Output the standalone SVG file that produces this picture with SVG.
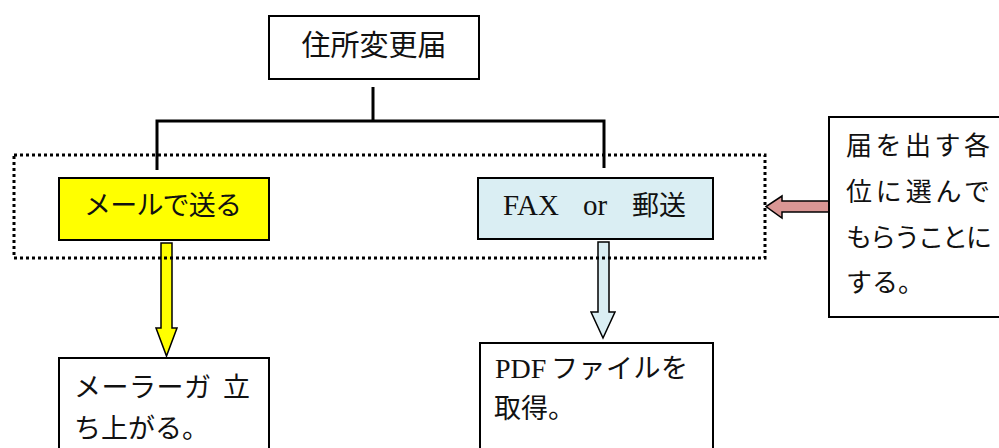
<svg xmlns="http://www.w3.org/2000/svg" width="999" height="448" viewBox="0 0 999 448">
<style>
  .box { stroke: #000; stroke-width: 2; }
  .t { font-family: "Liberation Serif", "Noto Sans CJK JP", serif; fill: #111; }
  .conn { fill: none; stroke: #000; stroke-width: 3; }
  .arrow { stroke: #000; stroke-width: 1.5; stroke-linejoin: miter; }
</style>
<rect width="999" height="448" fill="#fff"/>

<g id="connectors">
  <path class="conn" d="M373,87 V121 M157,170 V121 H604 V168"/>
  <path id="arrow-mail" class="arrow" fill="#FFFF00" d="M161,243 H172 V328 H177 L166.5,356 L156,328 H161 Z"/>
  <path id="arrow-fax" class="arrow" fill="#DAEEF3" d="M598,242 H609 V312 H615 L603,338 L591,312 H598 Z"/>
  <path id="arrow-note" class="arrow" fill="#D99694" d="M830,201 V212 H782 V218 L766,206.5 L782,196 V201 Z"/>
</g>

<g id="group-choice">
  <rect x="14" y="155" width="751" height="103" fill="none" stroke="#000" stroke-width="3" stroke-dasharray="3 3"/>
</g>

<g id="node-top">
  <rect class="box" x="269" y="16" width="210" height="63" fill="#fff"/>
  <text class="t" x="374" y="56" font-size="29" text-anchor="middle">住所変更届</text>
</g>

<g id="node-mail">
  <rect class="box" x="59" y="178" width="210" height="62" fill="#FFFF00"/>
  <text class="t" x="84" y="215" font-size="27" textLength="158" lengthAdjust="spacing">メールで送る</text>
</g>

<g id="node-fax">
  <rect class="box" x="478" y="178" width="235" height="61" fill="#DAEEF3"/>
  <text class="t" y="215" font-size="29"><tspan x="503">FAX</tspan><tspan x="583">or</tspan><tspan x="632" font-size="27">郵送</tspan></text>
</g>

<g id="node-mailer">
  <rect class="box" x="59" y="358" width="210" height="100" fill="#fff"/>
  <text class="t" font-size="27">
    <tspan x="74" y="397" textLength="137" lengthAdjust="spacing">メーラーガ</tspan><tspan x="223" y="397">立</tspan>
    <tspan x="74" y="438">ち上がる。</tspan>
  </text>
</g>

<g id="node-pdf">
  <rect class="box" x="480" y="343" width="233" height="115" fill="#fff"/>
  <text class="t" font-size="28">
    <tspan x="495" y="378">PDF</tspan><tspan x="551" y="378" font-size="27" textLength="137" lengthAdjust="spacing">ファイルを</tspan>
    <tspan x="494" y="418" font-size="27">取得。</tspan>
  </text>
</g>

<g id="node-note">
  <rect class="box" x="829" y="117" width="190" height="200" fill="#fff"/>
  <text class="t" font-size="26">
    <tspan x="846" y="155" textLength="144" lengthAdjust="spacing">届を出す各</tspan>
    <tspan x="846" y="201" textLength="144" lengthAdjust="spacing">位に選んで</tspan>
    <tspan x="846" y="247" textLength="146" lengthAdjust="spacing">もらうことに</tspan>
    <tspan x="846" y="292">する。</tspan>
  </text>
</g>
</svg>
